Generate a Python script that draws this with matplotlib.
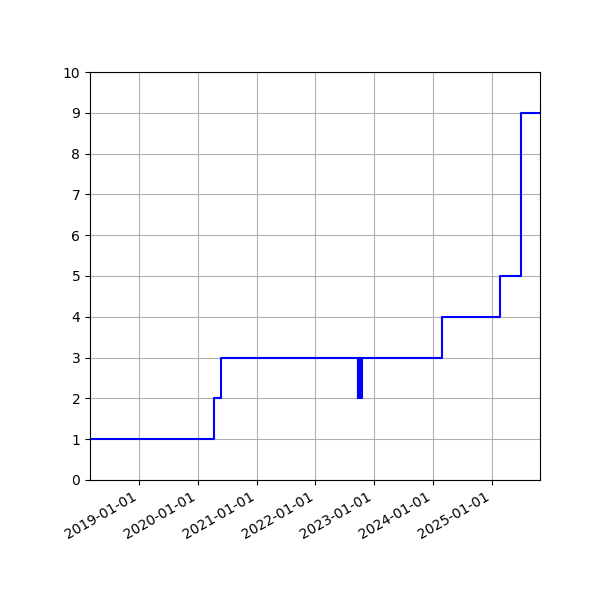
import numpy as np
import matplotlib.pyplot as plt
import matplotlib.dates as mdates
from datetime import datetime

dates = ['2018-03-03', '2020-04-09', '2020-05-25',
         '2022-09-20', '2022-09-23', '2022-09-26', '2022-09-29',
         '2022-10-02', '2022-10-05', '2022-10-08', '2022-10-11',
         '2022-10-13', '2022-10-15',
         '2024-02-23', '2025-02-19', '2025-06-28', '2025-10-26']
values = [1, 2, 3,
          2, 3, 2, 3,
          2, 3, 2, 3,
          2, 3,
          4, 5, 9, 9]

x = [datetime.strptime(d, '%Y-%m-%d') for d in dates]

fig, ax = plt.subplots(figsize=(6, 6), dpi=100)
ax.step(x, values, where='post', color='blue')
ax.set_xlim(x[0], x[-1])
ax.set_ylim(0, 10)
ax.set_yticks(np.arange(0, 11, 1))
ax.xaxis.set_major_locator(mdates.YearLocator())
ax.xaxis.set_major_formatter(mdates.DateFormatter('%Y-%m-%d'))
ax.grid(True)
fig.autofmt_xdate()
fig.subplots_adjust(left=0.15)
fig.savefig('out.png')
